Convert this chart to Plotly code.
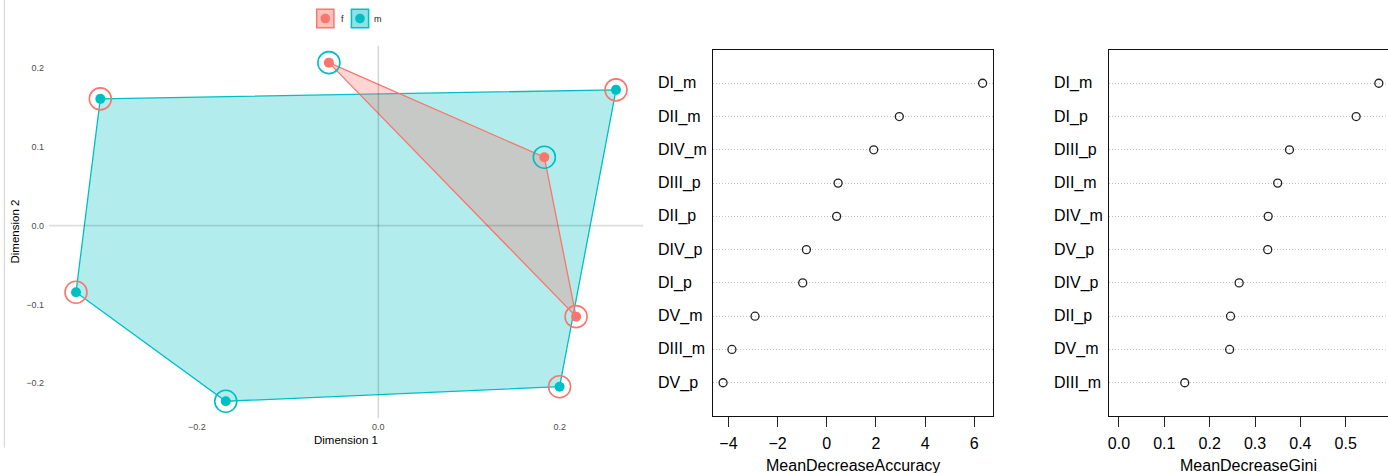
import plotly.graph_objects as go

# ---------------- data ----------------
# Left panel: MDS-like coordinates
dim1 = [-0.0545, 0.183, 0.218, -0.3065, 0.262, -0.3333, -0.1682, 0.1998]
dim2 = [0.207, 0.0869, -0.1156, 0.161, 0.1724, -0.0846, -0.2231, -0.2046]
group = ["f", "f", "f", "m", "m", "m", "m", "m"]
ring = ["m", "m", "f", "f", "f", "f", "m", "f"]
group_levels = ["f", "m"]
dim_ticks_x = [-0.2, 0.0, 0.2]
dim_ticks_y = [-0.2, -0.1, 0.0, 0.1, 0.2]

# Variable importance (top to bottom as displayed)
acc_vars = ["DI_m", "DII_m", "DIV_m", "DIII_p", "DII_p", "DIV_p", "DI_p", "DV_m", "DIII_m", "DV_p"]
acc_vals = [6.34, 2.95, 1.91, 0.46, 0.40, -0.83, -0.98, -2.92, -3.86, -4.22]
gini_vars = ["DI_m", "DI_p", "DIII_p", "DII_m", "DIV_m", "DV_p", "DIV_p", "DII_p", "DV_m", "DIII_m"]
gini_vals = [0.573, 0.523, 0.376, 0.350, 0.329, 0.328, 0.265, 0.246, 0.244, 0.145]
acc_ticks = [-4, -2, 0, 2, 4, 6]
gini_ticks = [0.0, 0.1, 0.2, 0.3, 0.4, 0.5]

# ---------------- styles ----------------
W, H = 1388, 473
COL = {"f": "#F8766D", "m": "#00BFC4"}
FILL = {"f": "rgba(248,118,109,0.3)", "m": "rgba(0,191,196,0.3)"}
FONT = "Liberation Sans, Arial, sans-serif"


def px(x):
    return x / W


def py(y):
    return 1 - y / H


def hull(points):
    pts = sorted(set(points))
    if len(pts) <= 2:
        return pts

    def cross(o, a, b):
        return (a[0] - o[0]) * (b[1] - o[1]) - (a[1] - o[1]) * (b[0] - o[0])

    lower, upper = [], []
    for p in pts:
        while len(lower) >= 2 and cross(lower[-2], lower[-1], p) <= 0:
            lower.pop()
        lower.append(p)
    for p in reversed(pts):
        while len(upper) >= 2 and cross(upper[-2], upper[-1], p) <= 0:
            upper.pop()
        upper.append(p)
    return lower[:-1] + upper[:-1]


fig = go.Figure()

# hulls: m first, f on top
for g in ["m", "f"]:
    pts = [(x, y) for x, y, gg in zip(dim1, dim2, group) if gg == g]
    h = hull(pts)
    h = h + [h[0]]
    fig.add_trace(go.Scatter(
        x=[p[0] for p in h], y=[p[1] for p in h], mode="lines", fill="toself",
        fillcolor=FILL[g], line=dict(color=COL[g], width=1.3),
        xaxis="x", yaxis="y", showlegend=False, hoverinfo="skip"))

# points
for g in group_levels:
    xs = [x for x, gg in zip(dim1, group) if gg == g]
    ys = [y for y, gg in zip(dim2, group) if gg == g]
    fig.add_trace(go.Scatter(x=xs, y=ys, mode="markers",
                             marker=dict(color=COL[g], size=10, line=dict(width=0)),
                             xaxis="x", yaxis="y", showlegend=False))
# rings
for g in group_levels:
    xs = [x for x, gg in zip(dim1, ring) if gg == g]
    ys = [y for y, gg in zip(dim2, ring) if gg == g]
    fig.add_trace(go.Scatter(x=xs, y=ys, mode="markers",
                             marker=dict(symbol="circle-open", color=COL[g], size=22,
                                         line=dict(width=1.6, color=COL[g])),
                             xaxis="x", yaxis="y", showlegend=False))

# dot charts
fig.add_trace(go.Scatter(x=acc_vals, y=acc_vars, mode="markers",
                         marker=dict(symbol="circle-open", size=8, color="#222",
                                     line=dict(width=1.3, color="#222")),
                         xaxis="x2", yaxis="y2", showlegend=False))
fig.add_trace(go.Scatter(x=gini_vals, y=gini_vars, mode="markers",
                         marker=dict(symbol="circle-open", size=8, color="#222",
                                     line=dict(width=1.3, color="#222")),
                         xaxis="x3", yaxis="y3", showlegend=False))

# ranges
def expand(lo, hi, f):
    s = hi - lo
    return [lo - f * s, hi + f * s]


xr1 = expand(min(dim1), max(dim1), 0.05)
yr1 = expand(min(dim2), max(dim2), 0.05)
xr2 = expand(min(acc_vals), max(acc_vals), 0.04)
xr3_full = expand(0, max(gini_vals), 0.04)
# right box extends slightly beyond the image edge
box3_left, box3_right_full = 1108.6, 1389.2
xr3 = [xr3_full[0], xr3_full[0] + (xr3_full[1] - xr3_full[0]) * (W - box3_left) / (box3_right_full - box3_left)]

ydom_dot = [py(416), py(50)]
GRID = dict(showgrid=True, gridcolor="#c4c4c4", griddash="1px,2px", gridwidth=1)

fig.update_layout(
    width=W, height=H, margin=dict(l=0, r=0, t=0, b=0),
    paper_bgcolor="white", plot_bgcolor="white",
    font=dict(family=FONT, color="black"),
    xaxis=dict(domain=[px(49), px(643)], range=xr1, tickvals=dim_ticks_x, tickformat=".1f",
               showgrid=False, zeroline=False, ticks="", showline=False,
               tickfont=dict(size=9, color="#4d4d4d"), ticklabelstandoff=2),
    yaxis=dict(domain=[py(418.2), py(45.7)], range=yr1, tickvals=dim_ticks_y, tickformat=".1f",
               showgrid=False, zeroline=False, ticks="", showline=False,
               tickfont=dict(size=9, color="#4d4d4d"), ticklabelstandoff=4),
    xaxis2=dict(domain=[px(712.7), px(993)], range=xr2, anchor="y2", tickvals=acc_ticks,
                showgrid=False, zeroline=False, ticks="outside", ticklen=10, tickcolor="#222",
                tickwidth=1.2, showline=True, linecolor="#111", linewidth=1.2, mirror=True,
                tickfont=dict(size=16, color="black"), ticklabelstandoff=3),
    yaxis2=dict(domain=ydom_dot, anchor="x2", type="category",
                categoryorder="array", categoryarray=acc_vars[::-1], range=[-1, 10],
                showticklabels=False, ticks="", showline=True, linecolor="#111", linewidth=1.2,
                mirror=True, zeroline=False, **GRID),
    xaxis3=dict(domain=[px(box3_left), 1.0], range=xr3, anchor="y3", tickvals=gini_ticks,
                tickformat=".1f",
                showgrid=False, zeroline=False, ticks="outside", ticklen=10, tickcolor="#222",
                tickwidth=1.2, showline=True, linecolor="#111", linewidth=1.2, mirror=True,
                tickfont=dict(size=16, color="black"), ticklabelstandoff=3),
    yaxis3=dict(domain=ydom_dot, anchor="x3", type="category",
                categoryorder="array", categoryarray=gini_vars[::-1], range=[-1, 10],
                showticklabels=False, ticks="", showline=True, linecolor="#111", linewidth=1.2,
                mirror=False, zeroline=False, **GRID),
)

shapes = []
# zero reference lines on left panel (drawn above fills)
shapes.append(dict(type="line", xref="x", yref="y domain", x0=0, x1=0, y0=0, y1=1,
                   line=dict(color="rgba(0,0,0,0.16)", width=1.5), layer="above"))
shapes.append(dict(type="line", xref="x domain", yref="y", x0=0, x1=1, y0=0, y1=0,
                   line=dict(color="rgba(0,0,0,0.13)", width=1.8), layer="above"))
# image border line on far left
shapes.append(dict(type="line", xref="paper", yref="paper", x0=px(4.3), x1=px(4.3),
                   y0=py(0), y1=py(447.7), line=dict(color="#cfcfcf", width=1)))
# legend keys
for g, cx in zip(group_levels, [325.3, 360.0]):
    shapes.append(dict(type="rect", xref="paper", yref="paper",
                       x0=px(cx - 8.6), x1=px(cx + 8.6), y0=py(27.7), y1=py(9.3),
                       line=dict(color=COL[g], width=1.5),
                       fillcolor=FILL[g].replace("0.3)", "0.45)")))
    shapes.append(dict(type="circle", xref="paper", yref="paper",
                       x0=px(cx - 4.8), x1=px(cx + 4.8), y0=py(23.3), y1=py(13.7),
                       line=dict(width=0), fillcolor=COL[g]))
fig.update_layout(shapes=shapes)

ann = []
for g, tx in zip(group_levels, [342.0, 378.3]):
    ann.append(dict(text=g, xref="paper", yref="paper", x=px(tx), y=py(18.5),
                    xanchor="center", yanchor="middle", showarrow=False,
                    font=dict(size=9, color="#222")))
ann.append(dict(text="Dimension 1", xref="paper", yref="paper", x=px(346), y=py(440),
                xanchor="center", yanchor="middle", showarrow=False,
                font=dict(size=11.5, color="black")))
ann.append(dict(text="Dimension 2", xref="paper", yref="paper", x=px(14.5), y=py(232),
                xanchor="center", yanchor="middle", showarrow=False, textangle=-90,
                font=dict(size=11.5, color="black")))
for v in acc_vars:
    ann.append(dict(text=v, xref="paper", yref="y2", x=px(656), y=v, xanchor="left",
                    yanchor="middle", showarrow=False, font=dict(size=16, color="black")))
for v in gini_vars:
    ann.append(dict(text=v, xref="paper", yref="y3", x=px(1052), y=v, xanchor="left",
                    yanchor="middle", showarrow=False, font=dict(size=16, color="black")))
ann.append(dict(text="MeanDecreaseAccuracy", xref="x2", yref="paper",
                x=(xr2[0] + xr2[1]) / 2, y=py(465), xanchor="center", yanchor="middle",
                showarrow=False, font=dict(size=16, color="black")))
ann.append(dict(text="MeanDecreaseGini", xref="x3", yref="paper",
                x=(xr3_full[0] + xr3_full[1]) / 2, y=py(465), xanchor="center", yanchor="middle",
                showarrow=False, font=dict(size=16, color="black")))
fig.update_layout(annotations=ann)

fig.write_html("out.html")
